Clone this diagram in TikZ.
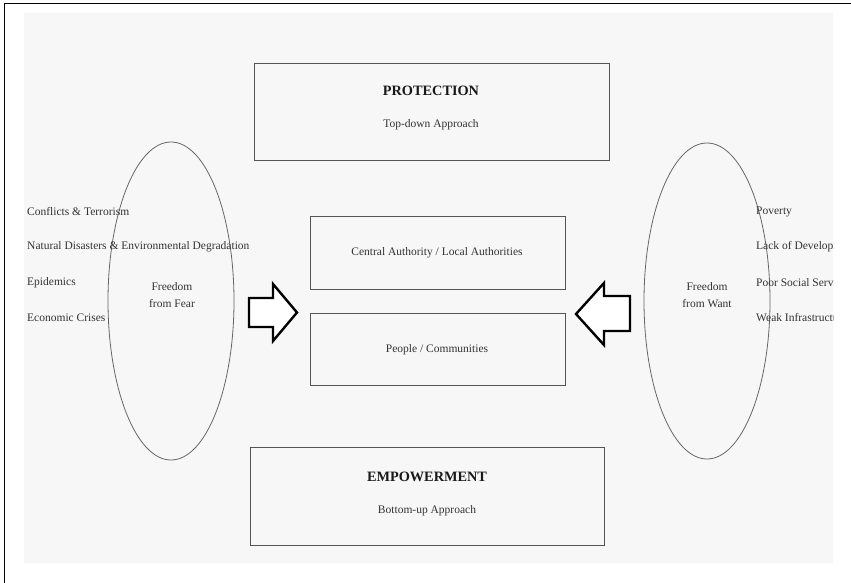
\documentclass[tikz,border=0pt]{standalone}
\usepackage{fontspec}
\setmainfont{Liberation Serif}
\definecolor{panel}{HTML}{F7F7F7}
\definecolor{edge}{HTML}{555555}
\tikzset{
  box/.style={draw=edge, line width=1pt, fill=panel, inner sep=0pt},
  lbl/.style={font=\fontsize{11.5}{13}\selectfont, inner sep=0pt, text=black!80},
  ttl/.style={font=\fontsize{14.3}{16}\selectfont\bfseries, inner sep=0pt, text=black!90},
  oval/.style={draw=black!60, line width=0.8pt},
  blockarrow/.style={draw=black, line width=2.4pt, line join=miter, fill=white}
}
\begin{document}
\begin{tikzpicture}[x=1pt,y=-1pt]
\useasboundingbox (0,0) rectangle (851,583);
\fill[white] (0,0) rectangle (851,583);
\fill[panel] (24,13) rectangle (833,563);
\draw[line width=1.6pt] (4.5,583) -- (4.5,3.5) -- (851,3.5);

% boxes
\draw[box] (254,64) rectangle (609,160);
\node[ttl] (prot) at (431,91) {PROTECTION};
\node[lbl] (top) at (431,125) {Top-down Approach};

\draw[box] (310,216) rectangle (565,289);
\node[lbl] (cent) at (437,253) {Central Authority / Local Authorities};

\draw[box] (310,313) rectangle (565,385);
\node[lbl] (peop) at (437,350) {People / Communities};

\draw[box] (250,447) rectangle (604,545);
\node[ttl] (emp) at (427,477) {EMPOWERMENT};
\node[lbl] (bot) at (427,511) {Bottom-up Approach};

% ellipses
\draw[oval] (171,301) ellipse [x radius=63, y radius=159];
\draw[oval] (707,301) ellipse [x radius=63, y radius=158];

% left texts
\node[lbl, anchor=west] (c1) at (27,212) {Conflicts \& Terrorism};
\node[lbl, anchor=west] (c2) at (27,247) {Natural Disasters \& Environmental Degradation};
\node[lbl, anchor=west] (c3) at (27,283) {Epidemics};
\node[lbl, anchor=west] (c4) at (27,318) {Economic Crises};
\node[lbl, align=center] (ff) at (172,295) {Freedom\\[4pt]from Fear};

% right texts
\node[lbl, align=center] (fw) at (707,295) {Freedom\\[4pt]from Want};
\begin{scope}
\clip (700,13) rectangle (833,563);
\node[lbl, anchor=west] (r1) at (756,212) {Poverty};
\node[lbl, anchor=west] (r2) at (756,247) {Lack of Development};
\node[lbl, anchor=west] (r3) at (756,283) {Poor Social Services};
\node[lbl, anchor=west] (r4) at (756,318) {Weak Infrastructure};
\end{scope}

% block arrows
\draw[blockarrow] (249,298) -- (273,298) -- (273,284) -- (297,312.5) -- (273,341) -- (273,327) -- (249,327) -- cycle;
\draw[blockarrow] (630,296) -- (604,296) -- (604,283) -- (576,314) -- (604,345) -- (604,331) -- (630,331) -- cycle;
\end{tikzpicture}
\end{document}
